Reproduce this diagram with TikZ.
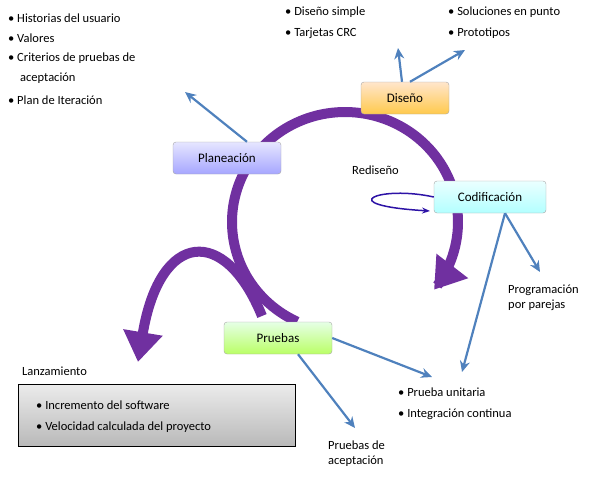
\documentclass[tikz,border=0pt]{standalone}
\usepackage{fontspec}
\setmainfont{Carlito}
\usetikzlibrary{arrows.meta}
\definecolor{purp}{RGB}{112,48,160}
\definecolor{barrow}{RGB}{79,129,189}
\tikzset{
  txt/.style={font=\fontsize{12.5}{15}\selectfont,anchor=west,inner sep=0pt},
  box/.style={draw=gray!70,rounded corners=3pt,minimum height=32pt,font=\fontsize{13}{15}\selectfont,inner sep=2pt},
  blu/.style={draw=barrow,line width=2.2pt,-{Stealth[length=11pt,width=10pt]}},
  big/.style={draw=purp,line width=10pt,-{Triangle[width=38pt,length=30pt]}}
}
\begin{document}
\begin{tikzpicture}[x=1pt,y=-1pt]
\useasboundingbox (0,0) rectangle (613,480);
% purple loop
\draw[big] plot[domain=115:398,samples=80,smooth] ({345+113*cos(\x)},{222+110*sin(\x)});
\draw[big] (262,316) .. controls (225,225) and (160,230) .. (138,362);
% boxes
\node[box,minimum width=88pt,top color=orange!20,bottom color=orange!60!yellow!70] (dis) at (405,98) {Diseño};
\node[box,minimum width=108pt,top color=blue!10,bottom color=blue!35] (pla) at (227,158) {Planeación};
\node[box,minimum width=112pt,top color=cyan!8,bottom color=cyan!30] (cod) at (490,197) {Codificación};
\node[box,minimum width=108pt,top color=green!10,bottom color=green!45!yellow!60] (pru) at (278,338) {Pruebas};
\node[draw=black,line width=0.8pt,minimum width=277pt,minimum height=62pt,top color=gray!15,bottom color=gray!55,inner sep=0pt] (lan) at (157,415) {};
\node[txt] (lant) at (22,371) {Lanzamiento};
\node[txt] (l1) at (36,405) {\textbullet\ Incremento del software};
\node[txt] (l2) at (36,427) {\textbullet\ Velocidad calculada del proyecto};
% texts
\node[txt] (t1) at (8,18) {\textbullet\ Historias del usuario};
\node[txt] (t2) at (8,38) {\textbullet\ Valores};
\node[txt] (t3) at (8,58) {\textbullet\ Criterios de pruebas de};
\node[txt] (t4) at (20,78) {aceptación};
\node[txt] (t5) at (8,100) {\textbullet\ Plan de Iteración};
\node[txt] (d1) at (285,12) {\textbullet\ Diseño simple};
\node[txt] (d2) at (285,33) {\textbullet\ Tarjetas CRC};
\node[txt] (s1) at (448,12) {\textbullet\ Soluciones en punto};
\node[txt] (s2) at (448,33) {\textbullet\ Prototipos};
\node[txt] (red) at (352,170) {Rediseño};
\node[txt,align=left] (pp) at (508,298) {Programación\\por parejas};
\node[txt] (u1) at (398,392) {\textbullet\ Prueba unitaria};
\node[txt] (u2) at (398,414) {\textbullet\ Integración continua};
\node[txt,align=left] (pa) at (328,454) {Pruebas de\\aceptación};
% coordinates
\coordinate (a1) at (185,92);
\coordinate (a2) at (398,48);
\coordinate (a3) at (465,50);
\coordinate (a4) at (540,272);
\coordinate (a5) at (462,372);
\coordinate (a6) at (432,377);
\coordinate (a7) at (355,428);
\coordinate (r1) at (430,211);
% blue arrows
\draw[blu] (pla.north) ++(20,0) -- (a1);
\draw[blu] (dis.north) ++(-3,0) -- (a2);
\draw[blu] (dis.north) ++(5,0) -- (a3);
\draw[blu] (cod.south) ++(15,0) -- (a4);
\draw[blu] (cod.south) ++(15,0) -- (a5);
\draw[blu] (pru.east) -- (a6);
\draw[blu] (pru.south) ++(20,0) -- (a7);
\draw[draw=purp!50!blue!80!black,line width=1.5pt,-{Stealth[length=8pt]}] (cod.west) .. controls (380,185) and (330,205) .. (r1);
\end{tikzpicture}
\end{document}
